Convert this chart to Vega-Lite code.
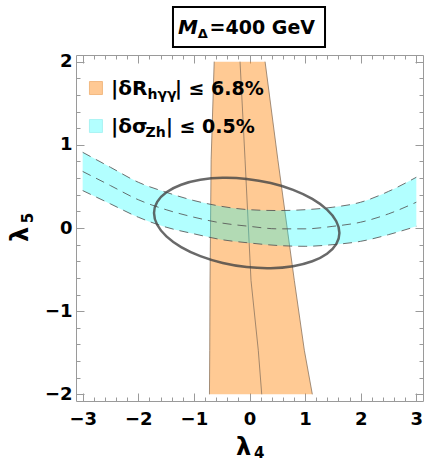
{
 "$schema": "https://vega.github.io/schema/vega-lite/v6.json",
 "width": 347, "height": 346,
 "autosize": {"type": "none"},
 "padding": {"left": 76, "top": 55, "right": 1, "bottom": 62},
 "background": "white",
 "data": {"values": [{}]},
 "config": {"view": {"stroke": "#9a9a9a", "strokeWidth": 1}, "text": {"font": "DejaVu Sans", "fontWeight": "bold", "color": "black"},
   "axis": {"grid": false, "domain": false, "title": null, "tickColor": "#9a9a9a", "tickWidth": 1}},
 "datasets": {
  "orange": [
   {"y": 2, "left": -0.635, "mid": -0.17, "right": 0.28},
   {"y": 0.82, "left": -0.69, "mid": -0.08, "right": 0.51},
   {"y": -0.63, "left": -0.71, "mid": 0.027, "right": 0.806},
   {"y": -1.47, "left": -0.715, "mid": 0.158, "right": 0.986},
   {"y": -2, "left": -0.72, "mid": 0.22, "right": 1.13}
  ],
  "cyan": [
   {"x": -3, "lo": 0.45, "mid": 0.68, "hi": 0.91},
   {"x": -2.5, "lo": 0.29, "mid": 0.51, "hi": 0.73},
   {"x": -2, "lo": 0.13, "mid": 0.34, "hi": 0.55},
   {"x": -1.5, "lo": 0.01, "mid": 0.22, "hi": 0.43},
   {"x": -1, "lo": -0.07, "mid": 0.13, "hi": 0.33},
   {"x": -0.5, "lo": -0.14, "mid": 0.06, "hi": 0.26},
   {"x": 0, "lo": -0.18, "mid": 0.02, "hi": 0.22},
   {"x": 0.5, "lo": -0.21, "mid": -0.01, "hi": 0.21},
   {"x": 1, "lo": -0.22, "mid": -0.01, "hi": 0.22},
   {"x": 1.5, "lo": -0.2, "mid": 0.02, "hi": 0.25},
   {"x": 2, "lo": -0.16, "mid": 0.07, "hi": 0.31},
   {"x": 2.5, "lo": -0.08, "mid": 0.17, "hi": 0.44},
   {"x": 3, "lo": 0.02, "mid": 0.31, "hi": 0.61}
  ],
  "ellipse": [
   {"i": 0, "x": 1.617, "y": -0.06},
   {"i": 1, "x": 1.56, "y": 0.081},
   {"i": 2, "x": 1.394, "y": 0.221},
   {"i": 3, "x": 1.129, "y": 0.35},
   {"i": 4, "x": 0.784, "y": 0.459},
   {"i": 5, "x": 0.381, "y": 0.541},
   {"i": 6, "x": -0.05, "y": 0.59},
   {"i": 7, "x": -0.481, "y": 0.603},
   {"i": 8, "x": -0.884, "y": 0.579},
   {"i": 9, "x": -1.229, "y": 0.52},
   {"i": 10, "x": -1.494, "y": 0.429},
   {"i": 11, "x": -1.66, "y": 0.313},
   {"i": 12, "x": -1.717, "y": 0.18},
   {"i": 13, "x": -1.66, "y": 0.039},
   {"i": 14, "x": -1.494, "y": -0.101},
   {"i": 15, "x": -1.229, "y": -0.23},
   {"i": 16, "x": -0.884, "y": -0.339},
   {"i": 17, "x": -0.481, "y": -0.421},
   {"i": 18, "x": -0.05, "y": -0.47},
   {"i": 19, "x": 0.381, "y": -0.483},
   {"i": 20, "x": 0.784, "y": -0.459},
   {"i": 21, "x": 1.129, "y": -0.4},
   {"i": 22, "x": 1.394, "y": -0.309},
   {"i": 23, "x": 1.56, "y": -0.193}
  ]
 },
 "resolve": {"axis": {"x": "independent", "y": "independent"}},
 "layer": [
  {"data": {"name": "orange"},
   "mark": {"type": "area", "orient": "horizontal", "color": "#FF8000", "opacity": 0.42},
   "encoding": {
    "y": {"field": "y", "type": "quantitative", "scale": {"domain": [-2.08, 2.08], "nice": false, "zero": false},
      "axis": {"orient": "left", "values": [-2, -1, 0, 1, 2], "ticks": false, "labelFont": "DejaVu Sans", "labelFontWeight": "bold", "labelFontSize": 18, "labelColor": "black", "labelPadding": 4, "labelFlush": false, "labelOverlap": false, "format": "d"}},
    "x": {"field": "left", "type": "quantitative", "scale": {"domain": [-3.12, 3.12], "nice": false, "zero": false},
      "axis": {"orient": "bottom", "values": [-3, -2, -1, 0, 1, 2, 3], "ticks": false, "labelFont": "DejaVu Sans", "labelFontWeight": "bold", "labelFontSize": 18, "labelColor": "black", "labelPadding": 9, "labelFlush": false, "labelOverlap": false, "format": "d"}},
    "x2": {"field": "right"}
   }},
  {"data": {"name": "orange"},
   "mark": {"type": "line", "stroke": "#8c7560", "strokeWidth": 0.8},
   "encoding": {
    "y": {"field": "y", "type": "quantitative", "scale": {"domain": [-2.08, 2.08], "nice": false, "zero": false},
      "axis": {"orient": "left", "values": [-2, -1, 0, 1, 2], "labels": false, "ticks": true, "tickSize": 8, "offset": -8}},
    "x": {"field": "left", "type": "quantitative", "scale": {"domain": [-3.12, 3.12], "nice": false, "zero": false},
      "axis": {"orient": "bottom", "values": [-3, -2, -1, 0, 1, 2, 3], "labels": false, "ticks": true, "tickSize": 8, "offset": -8}},
    "order": {"field": "y", "type": "quantitative"}
   }},
  {"data": {"name": "orange"},
   "mark": {"type": "line", "stroke": "#8c7560", "strokeWidth": 0.8},
   "encoding": {
    "y": {"field": "y", "type": "quantitative", "scale": {"domain": [-2.08, 2.08], "nice": false, "zero": false},
      "axis": {"orient": "left", "values": [-1.8, -1.6, -1.4, -1.2, -0.8, -0.6, -0.4, -0.2, 0.2, 0.4, 0.6, 0.8, 1.2, 1.4, 1.6, 1.8], "labels": false, "ticks": true, "tickSize": 4, "offset": -4}},
    "x": {"field": "mid", "type": "quantitative", "scale": {"domain": [-3.12, 3.12], "nice": false, "zero": false},
      "axis": {"orient": "bottom", "values": [-2.8, -2.6, -2.4, -2.2, -1.8, -1.6, -1.4, -1.2, -0.8, -0.6, -0.4, -0.2, 0.2, 0.4, 0.6, 0.8, 1.2, 1.4, 1.6, 1.8, 2.2, 2.4, 2.6, 2.8], "labels": false, "ticks": true, "tickSize": 4, "offset": -4}},
    "order": {"field": "y", "type": "quantitative"}
   }},
  {"data": {"name": "orange"},
   "mark": {"type": "line", "stroke": "#8c7560", "strokeWidth": 0.8},
   "encoding": {
    "y": {"field": "y", "type": "quantitative", "scale": {"domain": [-2.08, 2.08], "nice": false, "zero": false},
      "axis": {"orient": "right", "values": [-2, -1, 0, 1, 2], "labels": false, "ticks": true, "tickSize": 8, "offset": -8}},
    "x": {"field": "right", "type": "quantitative", "scale": {"domain": [-3.12, 3.12], "nice": false, "zero": false},
      "axis": {"orient": "top", "values": [-3, -2, -1, 0, 1, 2, 3], "labels": false, "ticks": true, "tickSize": 8, "offset": -8}},
    "order": {"field": "y", "type": "quantitative"}
   }},
  {"data": {"name": "cyan"},
   "mark": {"type": "area", "color": "#00FFFF", "opacity": 0.3, "interpolate": "monotone"},
   "encoding": {
    "x": {"field": "x", "type": "quantitative", "scale": {"domain": [-3.12, 3.12], "nice": false, "zero": false},
      "axis": {"orient": "top", "values": [-2.8, -2.6, -2.4, -2.2, -1.8, -1.6, -1.4, -1.2, -0.8, -0.6, -0.4, -0.2, 0.2, 0.4, 0.6, 0.8, 1.2, 1.4, 1.6, 1.8, 2.2, 2.4, 2.6, 2.8], "labels": false, "ticks": true, "tickSize": 4, "offset": -4}},
    "y": {"field": "lo", "type": "quantitative", "scale": {"domain": [-2.08, 2.08], "nice": false, "zero": false},
      "axis": {"orient": "right", "values": [-1.8, -1.6, -1.4, -1.2, -0.8, -0.6, -0.4, -0.2, 0.2, 0.4, 0.6, 0.8, 1.2, 1.4, 1.6, 1.8], "labels": false, "ticks": true, "tickSize": 4, "offset": -4}},
    "y2": {"field": "hi"}
   }},
  {"data": {"name": "cyan"},
   "mark": {"type": "line", "stroke": "#555555", "strokeWidth": 1, "strokeDash": [9, 6], "opacity": 0.85, "interpolate": "monotone"},
   "encoding": {
    "x": {"field": "x", "type": "quantitative", "scale": {"domain": [-3.12, 3.12], "nice": false, "zero": false}, "axis": null},
    "y": {"field": "lo", "type": "quantitative", "scale": {"domain": [-2.08, 2.08], "nice": false, "zero": false}, "axis": null}
   }},
  {"data": {"name": "cyan"},
   "mark": {"type": "line", "stroke": "#555555", "strokeWidth": 1, "strokeDash": [9, 6], "opacity": 0.85, "interpolate": "monotone"},
   "encoding": {
    "x": {"field": "x", "type": "quantitative", "scale": {"domain": [-3.12, 3.12], "nice": false, "zero": false}, "axis": null},
    "y": {"field": "mid", "type": "quantitative", "scale": {"domain": [-2.08, 2.08], "nice": false, "zero": false}, "axis": null}
   }},
  {"data": {"name": "cyan"},
   "mark": {"type": "line", "stroke": "#555555", "strokeWidth": 1, "strokeDash": [9, 6], "opacity": 0.85, "interpolate": "monotone"},
   "encoding": {
    "x": {"field": "x", "type": "quantitative", "scale": {"domain": [-3.12, 3.12], "nice": false, "zero": false}, "axis": null},
    "y": {"field": "hi", "type": "quantitative", "scale": {"domain": [-2.08, 2.08], "nice": false, "zero": false}, "axis": null}
   }},
  {"data": {"name": "ellipse"},
   "mark": {"type": "line", "stroke": "#444444", "strokeWidth": 2.5, "opacity": 0.8, "interpolate": "cardinal-closed"},
   "encoding": {
    "x": {"field": "x", "type": "quantitative", "scale": {"domain": [-3.12, 3.12], "nice": false, "zero": false}, "axis": null},
    "y": {"field": "y", "type": "quantitative", "scale": {"domain": [-2.08, 2.08], "nice": false, "zero": false}, "axis": null},
    "order": {"field": "i", "type": "quantitative"}
   }},
  {"mark": {"type": "square", "size": 169, "filled": true, "color": "#FFC994", "stroke": "#EFAE70", "strokeWidth": 0.8, "opacity": 1},
   "encoding": {"x": {"datum": -2.761, "type": "quantitative", "scale": {"domain": [-3.12, 3.12], "nice": false, "zero": false}, "axis": null},
    "y": {"datum": 1.683, "type": "quantitative", "scale": {"domain": [-2.08, 2.08], "nice": false, "zero": false}, "axis": null}}},
  {"mark": {"type": "square", "size": 169, "filled": true, "color": "#B3FFFF", "stroke": "#A0F0F0", "strokeWidth": 0.8, "opacity": 1},
   "encoding": {"x": {"datum": -2.761, "type": "quantitative", "scale": {"domain": [-3.12, 3.12], "nice": false, "zero": false}, "axis": null},
    "y": {"datum": 1.226, "type": "quantitative", "scale": {"domain": [-2.08, 2.08], "nice": false, "zero": false}, "axis": null}}},
  {"mark": {"type": "text", "text": "|δR", "fontSize": 20, "align": "left", "baseline": "alphabetic"},
   "encoding": {"x": {"datum": -2.49, "type": "quantitative", "scale": {"domain": [-3.12, 3.12], "nice": false, "zero": false}, "axis": null},
    "y": {"datum": 1.599, "type": "quantitative", "scale": {"domain": [-2.08, 2.08], "nice": false, "zero": false}, "axis": null}}},
  {"mark": {"type": "text", "text": "hγγ", "fontSize": 14, "align": "left", "baseline": "alphabetic"},
   "encoding": {"x": {"datum": -1.835, "type": "quantitative", "scale": {"domain": [-3.12, 3.12], "nice": false, "zero": false}, "axis": null},
    "y": {"datum": 1.551, "type": "quantitative", "scale": {"domain": [-2.08, 2.08], "nice": false, "zero": false}, "axis": null}}},
  {"mark": {"type": "text", "text": "| ≤ 6.8%", "fontSize": 19, "align": "left", "baseline": "alphabetic"},
   "encoding": {"x": {"datum": -1.34, "type": "quantitative", "scale": {"domain": [-3.12, 3.12], "nice": false, "zero": false}, "axis": null},
    "y": {"datum": 1.599, "type": "quantitative", "scale": {"domain": [-2.08, 2.08], "nice": false, "zero": false}, "axis": null}}},
  {"mark": {"type": "text", "text": "|δσ", "fontSize": 20, "align": "left", "baseline": "alphabetic"},
   "encoding": {"x": {"datum": -2.49, "type": "quantitative", "scale": {"domain": [-3.12, 3.12], "nice": false, "zero": false}, "axis": null},
    "y": {"datum": 1.141, "type": "quantitative", "scale": {"domain": [-2.08, 2.08], "nice": false, "zero": false}, "axis": null}}},
  {"mark": {"type": "text", "text": "Zh", "fontSize": 14, "align": "left", "baseline": "alphabetic"},
   "encoding": {"x": {"datum": -1.87, "type": "quantitative", "scale": {"domain": [-3.12, 3.12], "nice": false, "zero": false}, "axis": null},
    "y": {"datum": 1.093, "type": "quantitative", "scale": {"domain": [-2.08, 2.08], "nice": false, "zero": false}, "axis": null}}},
  {"mark": {"type": "text", "text": "| ≤ 0.5%", "fontSize": 19, "align": "left", "baseline": "alphabetic"},
   "encoding": {"x": {"datum": -1.502, "type": "quantitative", "scale": {"domain": [-3.12, 3.12], "nice": false, "zero": false}, "axis": null},
    "y": {"datum": 1.141, "type": "quantitative", "scale": {"domain": [-2.08, 2.08], "nice": false, "zero": false}, "axis": null}}},
  {"mark": {"type": "rect", "fill": "white", "stroke": "black", "strokeWidth": 2},
   "encoding": {"x": {"datum": -1.376, "type": "quantitative", "scale": {"domain": [-3.12, 3.12], "nice": false, "zero": false}, "axis": null},
    "x2": {"datum": 1.358},
    "y": {"datum": 2.658, "type": "quantitative", "scale": {"domain": [-2.08, 2.08], "nice": false, "zero": false}, "axis": null},
    "y2": {"datum": 2.176}}},
  {"mark": {"type": "text", "text": "M", "fontSize": 20, "fontStyle": "italic", "align": "left", "baseline": "alphabetic"},
   "encoding": {"x": {"datum": -1.286, "type": "quantitative", "scale": {"domain": [-3.12, 3.12], "nice": false, "zero": false}, "axis": null},
    "y": {"datum": 2.333, "type": "quantitative", "scale": {"domain": [-2.08, 2.08], "nice": false, "zero": false}, "axis": null}}},
  {"mark": {"type": "text", "text": "Δ", "fontSize": 13, "align": "left", "baseline": "alphabetic"},
   "encoding": {"x": {"datum": -0.93, "type": "quantitative", "scale": {"domain": [-3.12, 3.12], "nice": false, "zero": false}, "axis": null},
    "y": {"datum": 2.279, "type": "quantitative", "scale": {"domain": [-2.08, 2.08], "nice": false, "zero": false}, "axis": null}}},
  {"mark": {"type": "text", "text": "=400 GeV", "fontSize": 19, "align": "right", "baseline": "alphabetic"},
   "encoding": {"x": {"datum": 1.178, "type": "quantitative", "scale": {"domain": [-3.12, 3.12], "nice": false, "zero": false}, "axis": null},
    "y": {"datum": 2.333, "type": "quantitative", "scale": {"domain": [-2.08, 2.08], "nice": false, "zero": false}, "axis": null}}},
  {"mark": {"type": "text", "text": "λ", "fontSize": 24, "align": "left", "baseline": "alphabetic"},
   "encoding": {"x": {"datum": -0.243, "type": "quantitative", "scale": {"domain": [-3.12, 3.12], "nice": false, "zero": false}, "axis": null},
    "y": {"datum": -2.733, "type": "quantitative", "scale": {"domain": [-2.08, 2.08], "nice": false, "zero": false}, "axis": null}}},
  {"mark": {"type": "text", "text": "4", "fontSize": 15, "align": "left", "baseline": "alphabetic"},
   "encoding": {"x": {"datum": 0.081, "type": "quantitative", "scale": {"domain": [-3.12, 3.12], "nice": false, "zero": false}, "axis": null},
    "y": {"datum": -2.77, "type": "quantitative", "scale": {"domain": [-2.08, 2.08], "nice": false, "zero": false}, "axis": null}}},
  {"mark": {"type": "text", "text": "λ", "fontSize": 24, "angle": 270, "align": "left", "baseline": "alphabetic"},
   "encoding": {"x": {"datum": -3.984, "type": "quantitative", "scale": {"domain": [-3.12, 3.12], "nice": false, "zero": false}, "axis": null},
    "y": {"datum": -0.167, "type": "quantitative", "scale": {"domain": [-2.08, 2.08], "nice": false, "zero": false}, "axis": null}}},
  {"mark": {"type": "text", "text": "5", "fontSize": 15, "angle": 270, "align": "left", "baseline": "alphabetic"},
   "encoding": {"x": {"datum": -3.894, "type": "quantitative", "scale": {"domain": [-3.12, 3.12], "nice": false, "zero": false}, "axis": null},
    "y": {"datum": 0.058, "type": "quantitative", "scale": {"domain": [-2.08, 2.08], "nice": false, "zero": false}, "axis": null}}}
 ]
}
